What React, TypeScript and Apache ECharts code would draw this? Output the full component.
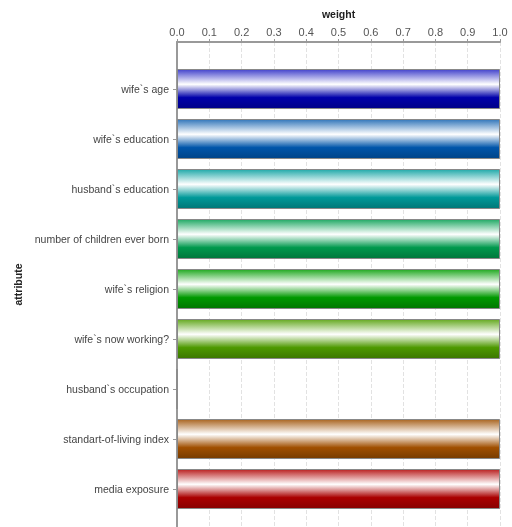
import React, { useEffect, useRef } from "react";
import * as echarts from "echarts";

const categories = [
  "wife`s age",
  "wife`s education",
  "husband`s education",
  "number of children ever born",
  "wife`s religion",
  "wife`s now working?",
  "husband`s occupation",
  "standart-of-living index",
  "media exposure",
];
const weights = [1.0, 1.0, 1.0, 1.0, 1.0, 1.0, 0.0, 1.0, 1.0];
const barColors = [
  ["#4444cc", "#0000aa", "#000088"],
  ["#3377bb", "#0055aa", "#004488"],
  ["#22aaaa", "#009999", "#007777"],
  ["#22aa66", "#00994d", "#00773c"],
  ["#22aa22", "#009900", "#007700"],
  ["#66aa22", "#4d9900", "#3c7700"],
  ["#aa6622", "#994d00", "#773c00"],
  ["#aa6622", "#a04f00", "#773c00"],
  ["#bb2222", "#aa0000", "#880000"],
];

const FONT = "Liberation Sans";

export default function App() {
  const ref = useRef<HTMLDivElement>(null);
  useEffect(() => {
    if (!ref.current) return;
    const chart = echarts.init(ref.current, undefined, { renderer: "svg" });
    const grad = (c: string[]) =>
      new echarts.graphic.LinearGradient(0, 0, 0, 1, [
        { offset: 0, color: c[0] },
        { offset: 0.38, color: "#ffffff" },
        { offset: 0.72, color: c[1] },
        { offset: 1, color: c[2] },
      ]);
    chart.setOption({
      animation: false,
      grid: [
        { left: 177, right: 12, top: 42, bottom: 0, containLabel: false },
        { left: 177, right: 12, top: 64, bottom: 13, containLabel: false },
      ],
      xAxis: [
        {
          gridIndex: 0,
          type: "value",
          position: "top",
          min: 0,
          max: 1,
          interval: 0.1,
          name: "weight",
          nameLocation: "middle",
          nameGap: 23,
          nameTextStyle: { fontFamily: FONT, fontWeight: "bold", fontSize: 10.5, color: "#222" },
          axisLine: { show: true, onZero: false, lineStyle: { color: "#999", width: 2 } },
          axisTick: { show: true, length: 3, lineStyle: { color: "#999" } },
          axisLabel: {
            fontFamily: FONT,
            fontSize: 11,
            color: "#555",
            margin: 5,
            formatter: (v: number) => v.toFixed(1),
          },
          splitLine: { show: true, lineStyle: { color: "#e2e2e2", type: "dashed", width: 1 } },
        },
        {
          gridIndex: 1,
          type: "value",
          min: 0,
          max: 1,
          show: false,
        },
      ],
      yAxis: [
        {
          gridIndex: 0,
          type: "value",
          min: 0,
          max: 1,
          position: "left",
          axisLine: { show: true, onZero: false, lineStyle: { color: "#999", width: 2 } },
          axisTick: { show: false },
          axisLabel: { show: false },
          splitLine: { show: false },
          name: "attribute",
          nameLocation: "middle",
          nameGap: 154,
          nameRotate: 90,
          nameTextStyle: { fontFamily: FONT, fontWeight: "bold", fontSize: 10.5, color: "#222" },
        },
        {
          gridIndex: 1,
          type: "category",
          data: categories,
          inverse: true,
          axisLine: { show: false },
          axisTick: { show: true, alignWithLabel: true, length: 4, lineStyle: { color: "#999" } },
          axisLabel: { fontFamily: FONT, fontSize: 10.5, color: "#444", margin: 8 },
          splitLine: { show: false },
        },
      ],
      series: [
        {
          type: "bar",
          xAxisIndex: 1,
          yAxisIndex: 1,
          barWidth: 40,
          data: weights.map((v, i) => ({
            value: v,
            itemStyle: {
              color: grad(barColors[i]),
              borderColor: "#888888",
              borderWidth: 1,
            },
          })),
        },
      ],
    });
    return () => chart.dispose();
  }, []);
  return (
    <div
      ref={ref}
      style={{ position: "fixed", left: 0, top: 0, width: 512, height: 527 }}
    />
  );
}
